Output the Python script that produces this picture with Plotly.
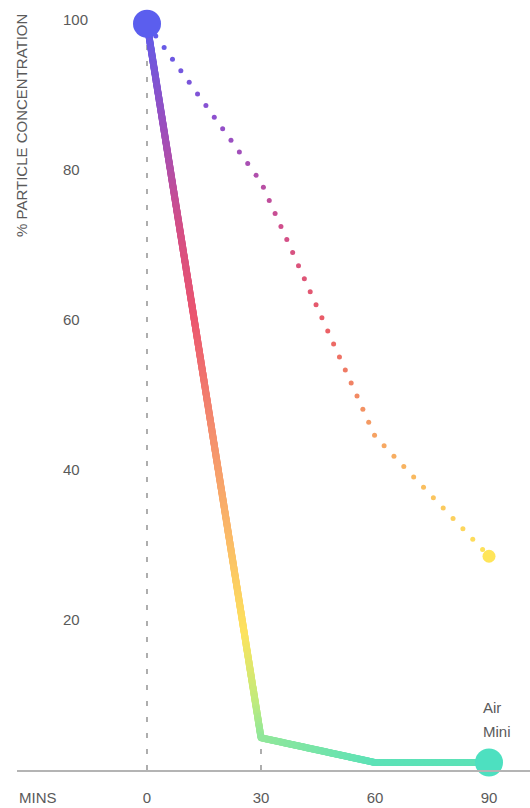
import numpy as np
import plotly.graph_objects as go
from plotly.colors import sample_colorscale

# ---- data ----
minutes = [0, 30, 60, 90]
air_mini = [99.5, 4.3, 1.0, 1.0]          # % particle concentration with Air Mini
baseline = [99.5, 78.4, 44.5, 28.5]       # % particle concentration, comparison curve
x_ticks = [0, 30, 60, 90]
y_ticks = [20, 40, 60, 80, 100]
series_label = ["Air", "Mini"]
y_title = "% PARTICLE CONCENTRATION"
x_title = "MINS"

# ---- page geometry ----
W, H = 530, 808
M_L, M_R, M_T, M_B = 17, 0, 0, 38
X0_PX = 147            # pixel column of minute 0
PX_PER_MIN = 3.8
PX_PER_PCT = 7.5
plot_w = W - M_L - M_R
plot_h = H - M_T - M_B
x_range = [(M_L - X0_PX) / PX_PER_MIN, (W - M_R - X0_PX) / PX_PER_MIN]
y_range = [0, plot_h / PX_PER_PCT]

TEXT = "#5a5a5a"
FONT = "Liberation Sans, Arial, sans-serif"
FS = 15

# gradient along each curve, keyed on the curve's own value span
main_scale = [
    [0.00, "#4DE0C0"], [0.04, "#8EE79C"], [0.09, "#C2EB7C"], [0.18, "#FDE35E"],
    [0.30, "#FBBD68"], [0.45, "#F48E6E"], [0.60, "#EB566F"], [0.72, "#D44F86"],
    [0.85, "#9E4FBC"], [1.00, "#5B5EEE"],
]
dot_scale = [
    [0.00, "#FFE55A"], [0.22, "#F6A462"], [0.44, "#EA5C66"], [0.62, "#D04E8C"],
    [0.82, "#8E50CE"], [1.00, "#5B5EEE"],
]


def walk(xs, ys, spacing, start=0.0):
    """Points spaced evenly (in screen pixels) along a polyline."""
    xs = np.asarray(xs, float)
    ys = np.asarray(ys, float)
    px, py = xs * PX_PER_MIN, ys * PX_PER_PCT
    seg = np.hypot(np.diff(px), np.diff(py))
    cum = np.concatenate([[0], np.cumsum(seg)])
    s = np.arange(start, cum[-1] + 1e-9, spacing)
    return np.interp(s, cum, xs), np.interp(s, cum, ys)


def colours(vals, lo, hi, scale):
    t = np.clip((np.asarray(vals) - lo) / (hi - lo), 0, 1)
    return sample_colorscale(scale, list(t))


fig = go.Figure()

# drop lines from the first two Air Mini readings to the axis
for i in (0, 1):
    fig.add_trace(go.Scatter(
        x=[minutes[i], minutes[i]], y=[0, air_mini[i]], mode="lines",
        line=dict(color="#9a9a9a", width=1.6, dash="5px,11px"),
        hoverinfo="skip", showlegend=False, cliponaxis=False,
    ))

# dotted comparison curve
dx, dy = walk(minutes, baseline, 14.3, start=15)
fig.add_trace(go.Scatter(
    x=dx, y=dy, mode="markers",
    marker=dict(size=5, color=colours(dy, min(baseline), max(baseline), dot_scale),
                line=dict(width=0)),
    hoverinfo="skip", showlegend=False, cliponaxis=False,
))

# Air Mini curve as a continuous gradient stroke
lx, ly = walk(minutes, air_mini, 0.8)
fig.add_trace(go.Scatter(
    x=lx, y=ly, mode="markers",
    marker=dict(size=7, color=colours(ly, 0, 100, main_scale), line=dict(width=0)),
    hoverinfo="skip", showlegend=False, cliponaxis=False,
))

# end points
fig.add_trace(go.Scatter(
    x=[minutes[-1]], y=[baseline[-1]], mode="markers",
    marker=dict(size=13, color="#FFE55A", line=dict(width=0)),
    hoverinfo="skip", showlegend=False, cliponaxis=False,
))
fig.add_trace(go.Scatter(
    x=[minutes[0], minutes[-1]], y=[air_mini[0], air_mini[-1]], mode="markers",
    marker=dict(size=28, color=["#5B5EEE", "#4DE0C0"], line=dict(width=0)),
    hoverinfo="skip", showlegend=False, cliponaxis=False,
))

annotations = [
    dict(text=y_title, textangle=-90, xref="paper", yref="paper", x=0, y=1,
         xanchor="center", yanchor="top", xshift=4.5, yshift=-12,
         showarrow=False, font=dict(size=FS, color=TEXT, family=FONT)),
    dict(text=x_title, xref="paper", yref="paper", x=0, y=0,
         xanchor="left", yanchor="middle", yshift=-27,
         showarrow=False, font=dict(size=FS, color=TEXT, family=FONT)),
]
for k, word in enumerate(series_label):
    annotations.append(dict(
        text=word, xref="x", yref="y", x=minutes[-1], y=air_mini[-1],
        xanchor="left", yanchor="middle", xshift=-8, yshift=55 - 24 * k,
        showarrow=False, font=dict(size=FS, color=TEXT, family=FONT)))

fig.update_layout(
    width=W, height=H,
    margin=dict(l=M_L, r=M_R, t=M_T, b=M_B, pad=0),
    paper_bgcolor="white", plot_bgcolor="white",
    showlegend=False,
    font=dict(family=FONT, size=FS, color=TEXT),
    annotations=annotations,
    xaxis=dict(
        range=x_range, tickvals=x_ticks, ticktext=[str(v) for v in x_ticks],
        showgrid=False, zeroline=False, showline=True, linecolor="#b4b4b4", linewidth=2,
        ticks="", ticklabelstandoff=13, tickfont=dict(size=FS, color=TEXT),
        fixedrange=True,
    ),
    yaxis=dict(
        range=y_range, tickvals=y_ticks, ticktext=[str(v) for v in y_ticks],
        showgrid=False, zeroline=False, showline=False,
        ticks="", ticklabelposition="inside", ticklabelstandoff=43,
        tickfont=dict(size=FS, color=TEXT), fixedrange=True,
    ),
)

fig.write_html("out.html", config={"displayModeBar": False})
